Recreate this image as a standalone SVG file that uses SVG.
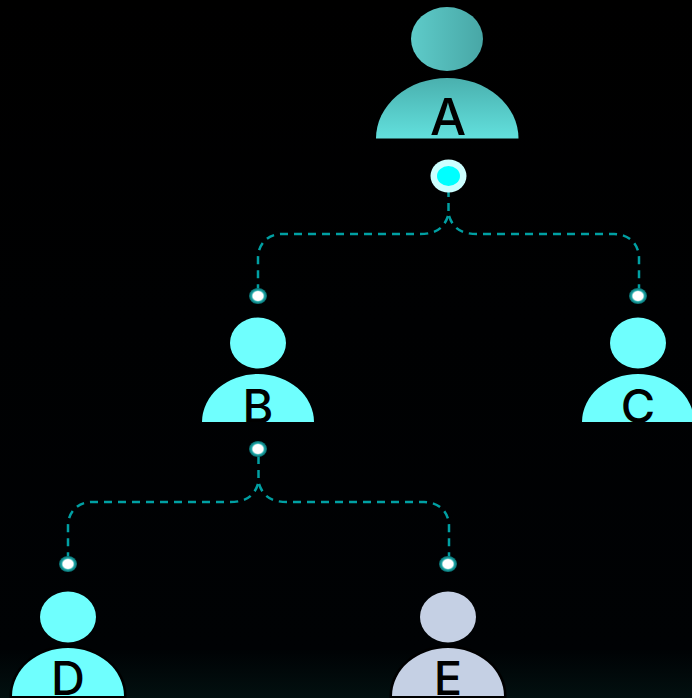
<svg xmlns="http://www.w3.org/2000/svg" width="692" height="698" viewBox="0 0 692 698">
<style>
.cy{fill:#6ffffe}.gy{fill:#c5d0e4}
.lab{font-family:Inter,"Liberation Sans",sans-serif;font-weight:500;fill:#000;text-anchor:middle}
.link{fill:none;stroke:#00a0a3;stroke-width:2.5;stroke-dasharray:8 6}
.port{fill:url(#pg)}
.halo{fill:none;stroke:#000;stroke-width:5}
</style>
<defs>
<linearGradient id="bg" x1="0" y1="0" x2="0" y2="1"><stop offset="0" stop-color="#000"/><stop offset=".93" stop-color="#000204"/><stop offset="1" stop-color="#021010"/></linearGradient>
<linearGradient id="hA" x1="0" y1="0" x2="1" y2="0"><stop offset="0" stop-color="#5ecbc9"/><stop offset="1" stop-color="#48a7a6"/></linearGradient>
<linearGradient id="bA" x1="0" y1="0" x2="0" y2="1"><stop offset="0" stop-color="#4ab0ae"/><stop offset="1" stop-color="#62e0dd"/></linearGradient>
<radialGradient id="pg"><stop offset="0" stop-color="#fff"/><stop offset=".55" stop-color="#fff"/><stop offset=".72" stop-color="#1fa8a8"/><stop offset="1" stop-color="#05686a"/></radialGradient>
<clipPath id="cA"><path d="M376 138.500A71.250 60.500 0 0 1 518.500 138.500Z"/></clipPath>
<clipPath id="cB"><path d="M202 422A56 48 0 0 1 314 422Z"/></clipPath>
<clipPath id="cC"><path d="M582 422A56 48 0 0 1 694 422Z"/></clipPath>
<clipPath id="cD"><path d="M12 696A56 48 0 0 1 124 696Z"/></clipPath>
<clipPath id="cE"><path d="M392 696A56 48 0 0 1 504 696Z"/></clipPath>
</defs>
<rect width="692" height="698" fill="url(#bg)"/>
<g id="connectors">
<path class="link" d="M448.500 189V212"/>
<path class="link" d="M448 216C444 228 436 234 420 234H282C268 234 258 244 258 258V290"/>
<path class="link" d="M449 216C453 228 461 234 477 234H614C629 234 639 244 639 258V290"/>
<path class="link" d="M258.500 456V480"/>
<path class="link" d="M258 484C254 496 246 502 230 502H92C78 502 68 512 68 526V558"/>
<path class="link" d="M259 484C263 496 271 502 287 502H424C439 502 449 512 449 526V558"/>
</g>
<g id="node-A">
<ellipse cx="447" cy="39" rx="36" ry="32" fill="url(#hA)"/>
<path d="M376 138.500A71.250 60.500 0 0 1 518.500 138.500Z" fill="url(#bA)"/>
<text class="lab" x="448" y="135" font-size="51" clip-path="url(#cA)">A</text>
</g>
<g id="port-A"><ellipse cx="448.500" cy="176" rx="18" ry="16.500" fill="#ccffff"/><ellipse cx="448.500" cy="176" rx="11.500" ry="10" fill="#00ffff"/></g>
<g id="port-B-top"><ellipse class="port" cx="258" cy="296" rx="9" ry="8"/></g>
<g id="node-B">
<ellipse class="cy" cx="258" cy="343" rx="28" ry="25.500"/>
<path class="cy" d="M202 422A56 48 0 0 1 314 422Z"/>
<text class="lab" x="258" y="423" font-size="47" clip-path="url(#cB)">B</text>
</g>
<g id="port-B-bottom"><ellipse class="port" cx="258" cy="449" rx="9" ry="8"/></g>
<g id="port-C-top"><ellipse class="port" cx="638" cy="296" rx="9" ry="8"/></g>
<g id="node-C">
<ellipse class="cy" cx="638" cy="343" rx="28" ry="25.500"/>
<path class="cy" d="M582 422A56 48 0 0 1 694 422Z"/>
<text class="lab" x="638" y="423" font-size="47" clip-path="url(#cC)">C</text>
</g>
<g id="port-D-top"><ellipse class="port" cx="68" cy="564" rx="9" ry="8"/></g>
<g id="node-D">
<path class="halo" d="M12 696A56 48 0 0 1 124 696V698H12Z"/>
<ellipse class="cy" cx="68" cy="617" rx="28" ry="25.500"/>
<path class="cy" d="M12 696A56 48 0 0 1 124 696Z"/>
<text class="lab" x="68" y="695" font-size="47" clip-path="url(#cD)">D</text>
</g>
<g id="port-E-top"><ellipse class="port" cx="448" cy="564" rx="9" ry="8"/></g>
<g id="node-E">
<path class="halo" d="M392 696A56 48 0 0 1 504 696V698H392Z"/>
<ellipse class="gy" cx="448" cy="617" rx="28" ry="25.500"/>
<path class="gy" d="M392 696A56 48 0 0 1 504 696Z"/>
<text class="lab" x="448" y="695" font-size="47" clip-path="url(#cE)">E</text>
</g>
</svg>
